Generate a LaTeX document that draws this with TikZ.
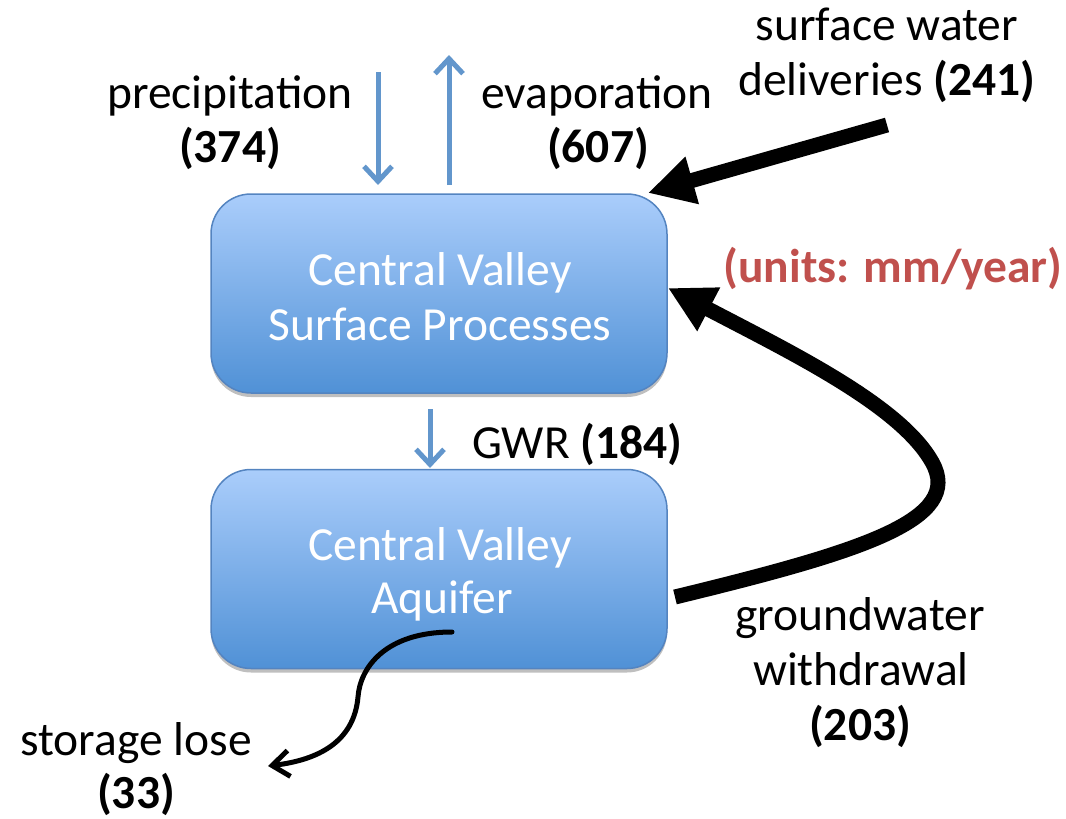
\documentclass[tikz,border=0pt]{standalone}
\usepackage{fontspec}
\setmainfont{Carlito}
\usetikzlibrary{arrows.meta,shadows}
\definecolor{flowblue}{RGB}{98,150,204}
\definecolor{boxtop}{RGB}{170,205,251}
\definecolor{boxbot}{RGB}{80,145,214}
\definecolor{boxline}{RGB}{84,132,192}
\definecolor{unitred}{RGB}{192,80,77}
\tikzset{
  procbox/.style={rounded corners=40pt, minimum width=456pt, minimum height=199pt,
    draw=boxline, line width=1.5pt, top color=boxtop, bottom color=boxbot,
    drop shadow={shadow xshift=0pt, shadow yshift=-4pt, opacity=0.25, fill=black}},
  lbl/.style={anchor=base, inner sep=0pt, font=\fontsize{47.5}{55}\selectfont},
  boxlbl/.style={lbl, text=white},
  blueflow/.style={draw=flowblue, line width=5pt, -{Straight Barb[length=15pt, width=28pt, line width=5pt]}},
  bigflow/.style={draw=black, line width=15pt, -{Triangle[length=46pt, width=46pt]}},
  thinflow/.style={draw=black, line width=5pt, line cap=round, -{Straight Barb[length=17pt, width=26pt, line width=5pt]}}
}
\begin{document}
\begin{tikzpicture}[x=1pt, y=-1pt]
\useasboundingbox (0,0) rectangle (1066,819);
% boxes
\node[procbox] (surf) at (439,293.5) {};
\node[procbox] (aqui) at (439,569) {};
% box texts
\node[boxlbl] (s1) at (440,285) {Central Valley};
\node[boxlbl] (s2) at (440,340) {Surface Processes};
\node[boxlbl] (a1) at (440,560) {Central Valley};
\node[boxlbl] (a2) at (442,613) {Aquifer};
% labels
\node[lbl] (p1) at (230,108) {precipitation};
\node[lbl] (p2) at (230,162) {\textbf{(374)}};
\node[lbl] (e1) at (597,108) {evaporation};
\node[lbl] (e2) at (598,162) {\textbf{(607)}};
\node[lbl] (w1) at (887,40) {surface water};
\node[lbl] (w2) at (887,95) {deliveries \textbf{(241)}};
\node[lbl, text=unitred] (u) at (893,282) {\textbf{(units: mm/year)}};
\node[lbl, anchor=base west] (g) at (472,458) {GWR \textbf{(184)}};
\node[lbl] (gw1) at (860,630) {groundwater};
\node[lbl] (gw2) at (861,685) {withdrawal};
\node[lbl] (gw3) at (860,740) {\textbf{(203)}};
\node[lbl] (sl1) at (136,755) {storage lose};
\node[lbl] (sl2) at (136,808) {\textbf{(33)}};
% coordinates for free ends
\coordinate (precTop) at (378,72);
\coordinate (precEnd) at (378,185);
\coordinate (evapStart) at (449,185);
\coordinate (evapTop) at (449,55);
\coordinate (gwrStart) at (430,409);
\coordinate (gwrEnd) at (430,468);
\coordinate (swStart) at (887,125);
\coordinate (swTip) at (648,193);
\coordinate (gwStart) at (675,597);
\coordinate (gwTip) at (668,288);
\coordinate (slStart) at (452,632);
\coordinate (slTip) at (268,766);
% flows
\draw[blueflow] (precTop) -- (precEnd);
\draw[blueflow] (evapStart) -- (evapTop);
\draw[blueflow] (gwrStart) -- (gwrEnd);
\draw[bigflow] (swStart) -- (swTip);
\draw[bigflow] (gwStart) .. controls (860,552) and (965,520) .. (932,462)
  .. controls (900,405) and (790,352) .. (gwTip);
\draw[thinflow] (slStart) .. controls (385,632) and (360,668) .. (358,697)
  .. controls (354,742) and (318,760) .. (slTip);
\end{tikzpicture}
\end{document}
